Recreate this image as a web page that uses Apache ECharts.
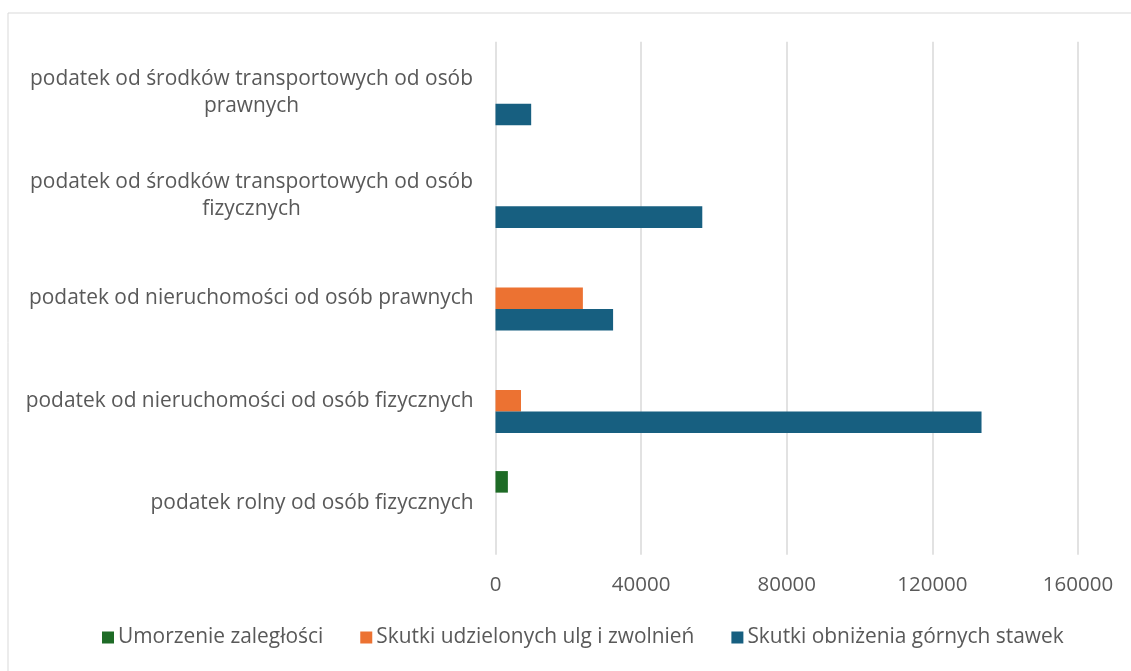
<!DOCTYPE html>
<html>
<head>
<meta charset="utf-8">
<script src="https://cdn.jsdelivr.net/npm/echarts@6/dist/echarts.min.js"></script>
<style>
  html, body { margin: 0; padding: 0; background: #fff; }
  #chart { width: 1131px; height: 671px; }
</style>
</head>
<body>
<div id="chart"></div>
<script>
// kategorie (od dołu do góry), \n = złamanie wiersza jak w oryginale
var categories = [
  'podatek rolny od osób fizycznych',
  'podatek od nieruchomości od osób fizycznych',
  'podatek od nieruchomości od osób prawnych',
  'podatek od środków transportowych od osób\nfizycznych',
  'podatek od środków transportowych od osób\nprawnych'
];
var seriesNames = ['Umorzenie zaległości', 'Skutki udzielonych ulg i zwolnień', 'Skutki obniżenia górnych stawek'];
var umorzenie = [3400, 0, 0, 0, 0];
var ulgi = [0, 7000, 24000, 0, 0];
var obnizenie = [0, 133500, 32300, 56800, 9800];
var xTicks = [0, 40000, 80000, 120000, 160000];

var colors = ['#1e6b26', '#ec7232', '#175f80'];
var font = 'Open Sans';
var txt = '#595959';

var chart = echarts.init(document.getElementById('chart'));
var option = {
  textStyle: { fontFamily: font },
  graphic: [{
    type: 'rect',
    shape: { x: 8, y: 13, width: 1140, height: 700 },
    style: { fill: 'none', stroke: '#d9d9d9', lineWidth: 1 },
    silent: true
  }],
  legend: {
    bottom: 18,
    left: 97,
    itemWidth: 12,
    itemHeight: 12,
    itemGap: 37,
    icon: 'rect',
    textStyle: { color: txt, fontSize: 20.9, fontFamily: font, padding: [0, 0, 0, -1] },
    data: seriesNames
  },
  grid: { left: 495.5, right: 53, top: 41.7, bottom: 116.3, containLabel: false },
  xAxis: {
    type: 'value',
    min: xTicks[0],
    max: xTicks[xTicks.length - 1],
    interval: xTicks[1] - xTicks[0],
    axisLine: { show: false },
    axisTick: { show: false },
    axisLabel: {
      color: txt, fontSize: 20.5, margin: 20, fontFamily: font,
      formatter: function (v) { return String(v); }
    },
    splitLine: { lineStyle: { color: '#d9d9d9', width: 1.5 } }
  },
  yAxis: {
    type: 'category',
    data: categories,
    axisLine: { show: false },
    axisTick: { show: false },
    axisLabel: {
      color: txt,
      fontSize: 20.9,
      fontFamily: font,
      margin: 22,
      lineHeight: 27,
      formatter: function (v) {
        var lines = v.split('\n');
        if (lines.length === 1) return v;
        return lines.map(function (l) { return '{c|' + l + '}'; }).join('\n');
      },
      rich: {
        c: { width: 444, align: 'center', color: txt, fontSize: 20.9, fontFamily: font, lineHeight: 27 }
      }
    }
  },
  series: [
    { name: seriesNames[0], type: 'bar', data: umorzenie, itemStyle: { color: colors[0] }, barGap: '0%', barCategoryGap: '37%' },
    { name: seriesNames[1], type: 'bar', data: ulgi, itemStyle: { color: colors[1] }, barGap: '0%', barCategoryGap: '37%' },
    { name: seriesNames[2], type: 'bar', data: obnizenie, itemStyle: { color: colors[2] }, barGap: '0%', barCategoryGap: '37%' }
  ]
};
chart.setOption(option);
</script>
</body>
</html>
